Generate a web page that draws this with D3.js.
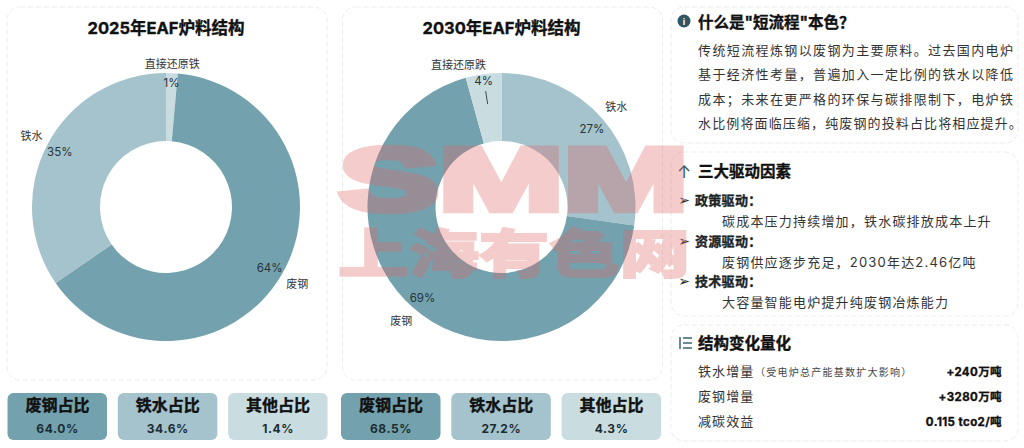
<!DOCTYPE html>
<html><head><meta charset="utf-8">
<script src="https://cdn.jsdelivr.net/npm/d3@7/dist/d3.min.js"></script>
<style>
html,body{margin:0;padding:0;background:#fff;overflow:hidden}
svg{display:block;font-family:Inter,"Noto Sans CJK SC",sans-serif}
</style></head><body><svg id="c" width="1024" height="448"></svg>
<script>
const partNames=["废钢","铁水","直接还原铁"];
const titles=["2025年EAF炉料结构","2030年EAF炉料结构"];
const order2025=["直接还原铁","废钢","铁水"];
const values2025=[1.4,64.0,34.6];
const order2030=["铁水","废钢","直接还原铁"];
const values2030=[27.2,68.5,4.3];
const names2030=["铁水","废钢","直接还原跌"];
const statLabels=["废钢占比","铁水占比","其他占比"];
const stats2025=["64.0%","34.6%","1.4%"];
const stats2030=["68.5%","27.2%","4.3%"];
const infoTitle='什么是"短流程"本色？';
const infoLines=["传统短流程炼钢以废钢为主要原料。过去国内电炉","基于经济性考量，普遍加入一定比例的铁水以降低","成本；未来在更严格的环保与碳排限制下，电炉铁","水比例将面临压缩，纯废钢的投料占比将相应提升。"];
const driverTitle="三大驱动因素";
const driverHeads=["政策驱动：","资源驱动：","技术驱动："];
const driverTexts=["碳成本压力持续增加，铁水碳排放成本上升","废钢供应逐步充足，2030年达2.46亿吨","大容量智能电炉提升纯废钢冶炼能力"];
const quantTitle="结构变化量化";
const quantLabels=["铁水增量","废钢增量","减碳效益"];
const quantNotes=["（受电炉总产能基数扩大影响）","",""];
const quantValues=["+240万吨","+3280万吨","0.115 tco2/吨"];

const svg=d3.select("#c");
const colour=d3.scaleOrdinal().domain(partNames).range(["#73a2ae","#a4c3cc","#c9dde1"]);
const statColour=["#73a2ae","#a4c3cc","#c9dde1"];
const boldCss=c=>`paint-order:stroke;stroke:${c};stroke-width:.35px`;

function panel(x,y,w,h){
  svg.append("rect").attr("x",x).attr("y",y).attr("width",w).attr("height",h).attr("rx",13)
    .attr("fill","#fff").attr("stroke","#ececec").attr("stroke-dasharray","5 3");
}
function donut(cx,title,order,values,shown,stats,x0){
  panel(cx-159,7,320,373);
  svg.append("text").attr("x",cx).attr("y",34).attr("text-anchor","middle")
    .attr("font-size",16.5).attr("font-weight",700).attr("style",boldCss("#111")).attr("fill","#111").text(title);
  const g=svg.append("g").attr("transform",`translate(${cx},207)`);
  const rows=values.map((v,i)=>({v,part:order[i],name:shown[i]}));
  const pie=d3.pie().value(d=>d.v).sort(null)(rows);
  const arc=d3.arc().innerRadius(66).outerRadius(134);
  g.selectAll("path").data(pie).join("path").attr("d",arc).attr("fill",d=>colour(d.data.part));
  const lab=r=>d3.arc().innerRadius(r).outerRadius(r);
  pie.forEach(d=>{
    const small=d.data.v<5;
    let [px,py]=lab(small?125:120).centroid(d);
    let [nx,ny]=lab(small?143:152).centroid(d);
    if(d.data.v>=2&&small){ px-=1; py-=3; nx=-43; ny=-142; }
    g.append("text").attr("x",nx).attr("y",ny+4).attr("text-anchor","middle").attr("font-size",11).attr("fill","#333").text(d.data.name);
    g.append("text").attr("x",px).attr("y",py+4.5).attr("text-anchor","middle").attr("font-size",11.5).attr("fill","#24343a").text(Math.round(d.data.v)+"%");
    if(d.data.v>=2&&small) g.append("line").attr("x1",px+2).attr("y1",py+11).attr("x2",px+4).attr("y2",py+24).attr("stroke","#333").attr("stroke-width",.9);
  });
  stats.forEach((s,i)=>{
    const x=x0+i*110.3;
    svg.append("rect").attr("x",x).attr("y",393).attr("width",99.5).attr("height",47).attr("rx",6).attr("fill",statColour[i]);
    svg.append("text").attr("x",x+50).attr("y",411).attr("text-anchor","middle").attr("font-size",16).attr("font-weight",700).attr("style",boldCss("#111")).attr("fill","#111").text(statLabels[i]);
    svg.append("text").attr("x",x+50).attr("y",433).attr("text-anchor","middle").attr("font-size",12).attr("font-weight",700).attr("letter-spacing",.6).attr("fill","#1c2c32").text(s);
  });
}
donut(166,titles[0],order2025,values2025,order2025,stats2025,7.5);
donut(501.5,titles[1],order2030,values2030,names2030,stats2030,341);

// right column
panel(671,7,347,136);
svg.append("circle").attr("cx",684).attr("cy",21).attr("r",6.5).attr("fill","#2f5662");
svg.append("text").attr("x",684).attr("y",24.5).attr("text-anchor","middle").attr("font-size",9).attr("font-weight",700).attr("fill","#fff").text("i");
svg.append("text").attr("x",698).attr("y",28).attr("font-size",15.5).attr("font-weight",700).attr("style",boldCss("#111")).attr("fill","#111").text(infoTitle);
infoLines.forEach((t,i)=>svg.append("text").attr("x",698).attr("y",55+i*24.4).attr("font-size",13)
  .attr("letter-spacing",Math.min(1.38,325/t.length-13)).attr("fill","#333").text(t));

panel(671,152,347,164);
svg.append("text").attr("x",684).attr("y",178).attr("text-anchor","middle").attr("font-size",17).attr("fill","#2f5662").text("↑");
svg.append("text").attr("x",698).attr("y",177).attr("font-size",15.5).attr("font-weight",700).attr("style",boldCss("#111")).attr("fill","#111").text(driverTitle);
driverHeads.forEach((t,i)=>{
  const y=205+i*40.7;
  svg.append("text").attr("x",684).attr("y",y).attr("text-anchor","middle").attr("font-size",14).attr("fill","#1c2426").attr("style","font-family:'DejaVu Sans'").text("➢");
  svg.append("text").attr("x",695).attr("y",y).attr("font-size",13).attr("font-weight",700).attr("letter-spacing",.3).attr("style",boldCss("#1c2426")).attr("fill","#1c2426").text(t);
  svg.append("text").attr("x",722).attr("y",y+21).attr("font-size",13).attr("letter-spacing",1.2).attr("fill","#333").text(driverTexts[i]);
});

panel(671,325,347,116);
const ic=svg.append("g").attr("stroke","#2f5662").attr("stroke-width",1.4);
[338,343,348].forEach(y=>ic.append("line").attr("x1",683).attr("x2",692).attr("y1",y).attr("y2",y));
ic.append("line").attr("x1",680).attr("x2",680).attr("y1",337).attr("y2",349);
svg.append("text").attr("x",698).attr("y",349).attr("font-size",15.5).attr("font-weight",700).attr("style",boldCss("#111")).attr("fill","#111").text(quantTitle);
quantLabels.forEach((t,i)=>{
  const y=376+i*25;
  svg.append("text").attr("x",698).attr("y",y).attr("font-size",13).attr("letter-spacing",1.1).attr("fill","#333").text(t);
  if(quantNotes[i]) svg.append("text").attr("x",755).attr("y",y).attr("font-size",10).attr("letter-spacing",1.25).attr("fill","#444").text(quantNotes[i]);
  svg.append("text").attr("x",1002).attr("y",y).attr("text-anchor","end").attr("font-size",11.5).attr("font-weight",700).attr("letter-spacing",.4).attr("style",boldCss("#111")).attr("fill","#111").text(quantValues[i]);
});

// watermark
const wm=svg.append("g").attr("opacity",.32).attr("fill","#e16464").attr("stroke","#e16464").attr("style","pointer-events:none");
wm.append("text").attr("transform","translate(339,210) scale(1,.93)")
  .attr("font-size",96).attr("font-weight",700).attr("stroke-width",7).attr("textLength",349).attr("lengthAdjust","spacingAndGlyphs")
  .attr("style","font-family:'Liberation Sans'").text("SMM");
wm.append("text").attr("transform","translate(338,273) scale(1,.74)")
  .attr("font-size",71).attr("font-weight",900).attr("stroke-width",2.5).attr("textLength",352).attr("lengthAdjust","spacingAndGlyphs")
  .attr("style","font-family:'Noto Sans CJK SC'").text("上海有色网");
</script></body></html>
